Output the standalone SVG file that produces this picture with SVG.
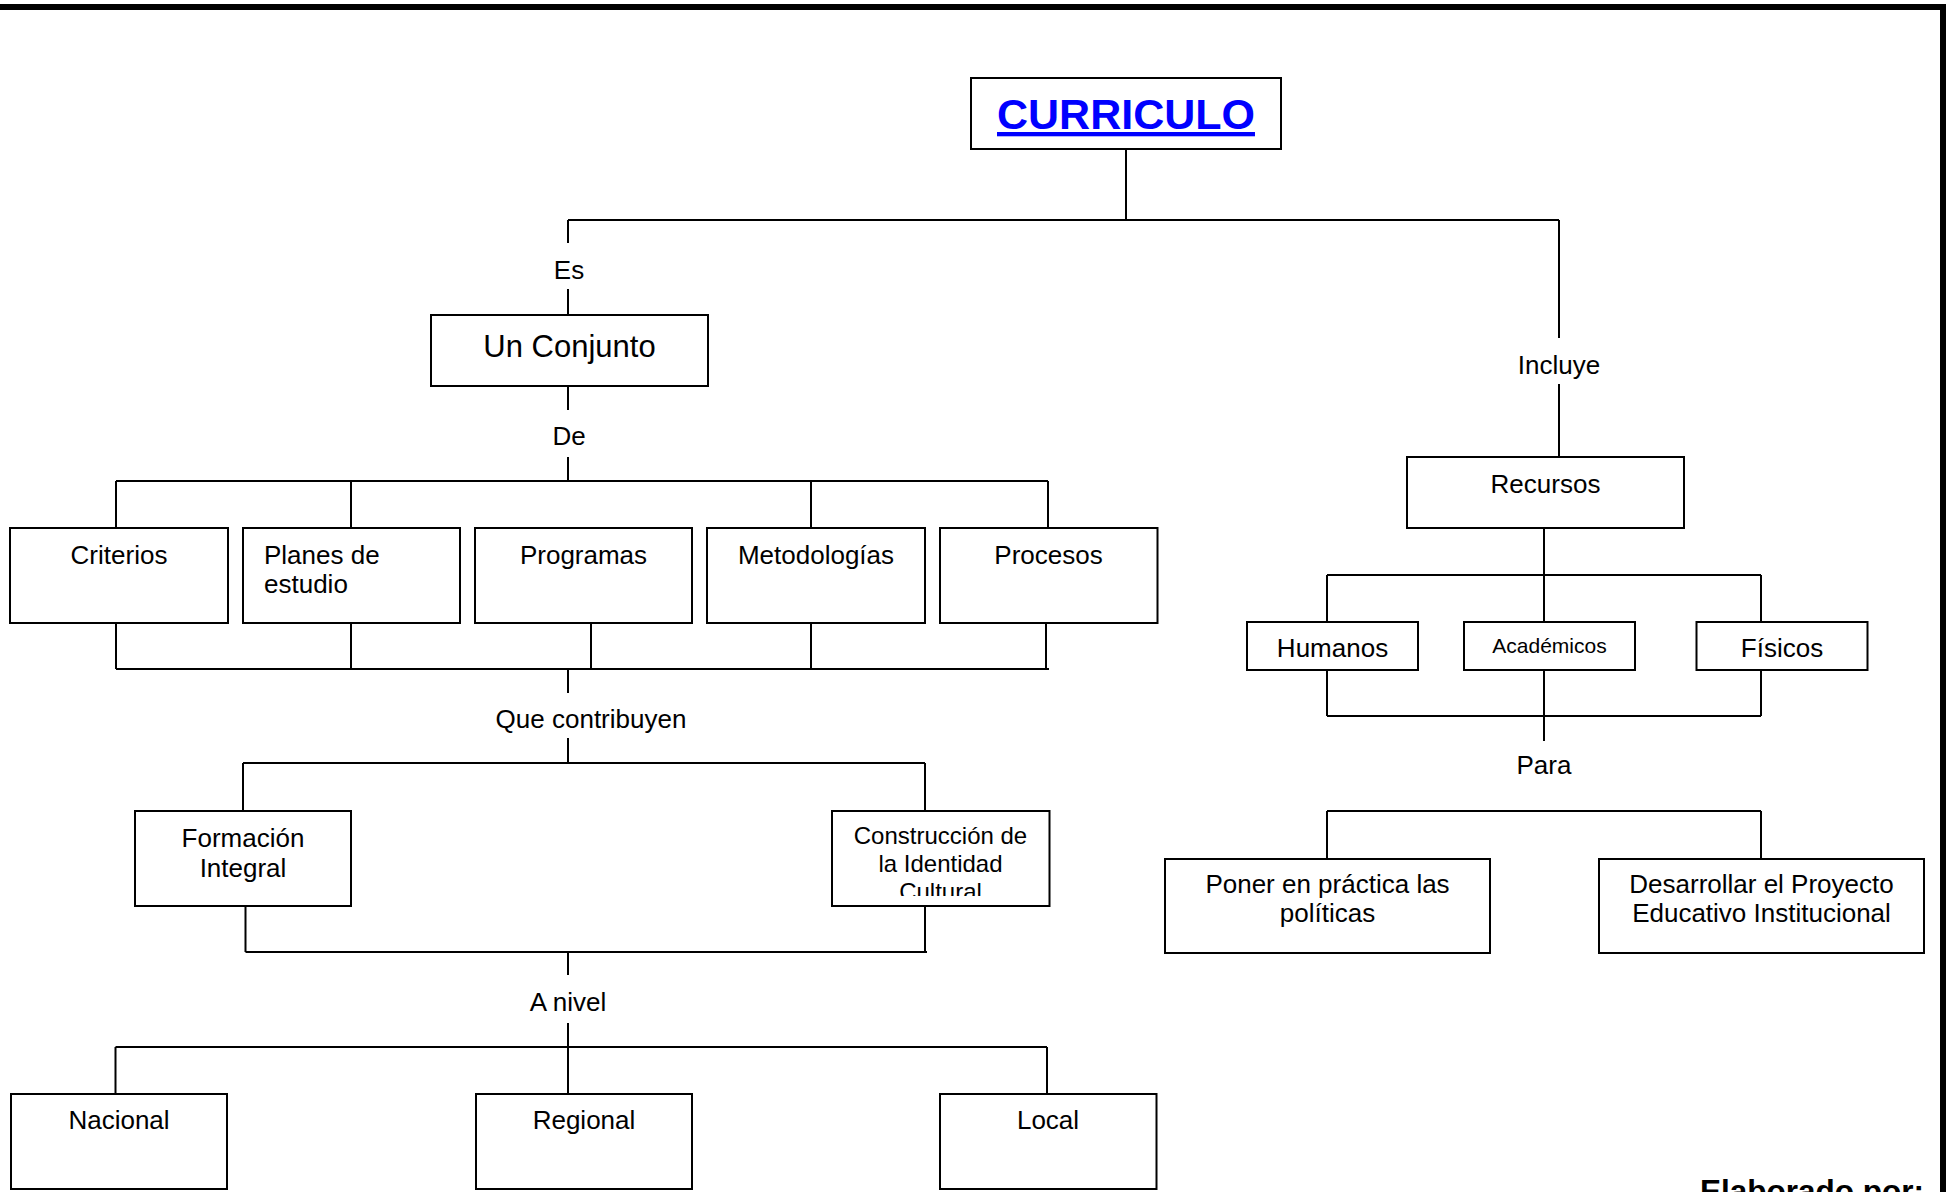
<svg xmlns="http://www.w3.org/2000/svg" width="1948" height="1192" viewBox="0 0 1948 1192">
  <style>
    .box { fill: #ffffff; stroke: #000000; stroke-width: 2; }
    .conn { fill: none; stroke: #000000; stroke-width: 2; }
    .frame { fill: none; stroke: #000000; stroke-width: 6; }
    text { font-family: "Liberation Sans", Arial, sans-serif; fill: #000000; }
    .lbl { font-size: 26px; text-anchor: middle; }
    .sm { font-size: 21px; text-anchor: middle; }
    .md { font-size: 24px; text-anchor: middle; }
    .title { font-size: 43px; font-weight: bold; fill: #0000ff; text-anchor: middle; text-decoration: underline; }
  </style>
  <defs>
    <clipPath id="clipIdentidad">
      <rect x="832" y="811" width="218" height="85"/>
    </clipPath>
  </defs>

  <rect x="0" y="0" width="1948" height="1192" fill="#ffffff"/>

  <!-- page frame (top and right edges) -->
  <g id="frame">
    <line class="frame" x1="0" y1="7" x2="1946" y2="7"/>
    <line class="frame" x1="1943" y1="4" x2="1943" y2="1192"/>
  </g>

  <!-- connectors and link labels -->
  <g id="connectors">
    <path class="conn" d="M1126 149 V220 M568 220 H1559"/>
    <path class="conn" d="M568 220 V243 M568 289 V315"/>
    <path class="conn" d="M1559 220 V338 M1559 384 V457"/>
    <path class="conn" d="M568 386 V410 M568 457 V481"/>
    <path class="conn" d="M116 481 H1048 M116 481 V528 M351 481 V528 M811 481 V528 M1048 481 V528"/>
    <path class="conn" d="M116 623 V669 M351 623 V669 M591 623 V669 M811 623 V669 M1046 623 V669 M116 669 H1049"/>
    <path class="conn" d="M568 669 V693 M568 738 V763"/>
    <path class="conn" d="M243 763 H925 M243 763 V811 M925 763 V811"/>
    <path class="conn" d="M245.5 906 V952 M925 906 V952 M245.5 952 H927"/>
    <path class="conn" d="M568 952 V975 M568 1023 V1094"/>
    <path class="conn" d="M115.5 1047 H1047 M115.5 1047 V1094 M1047 1047 V1094"/>
    <path class="conn" d="M1544 528 V622 M1327 575 H1761 M1327 575 V622 M1761 575 V622"/>
    <path class="conn" d="M1327 670 V716 M1761 670 V716 M1327 716 H1761 M1544 670 V741"/>
    <path class="conn" d="M1327 811 H1761 M1327 811 V859 M1761 811 V859"/>

    <text class="lbl" x="569" y="279">Es</text>
    <text class="lbl" x="569" y="445">De</text>
    <text class="lbl" x="1559" y="374">Incluye</text>
    <text class="lbl" x="591" y="728">Que contribuyen</text>
    <text class="lbl" x="568" y="1011">A nivel</text>
    <text class="lbl" x="1544" y="774">Para</text>
  </g>

  <g id="curriculo">
    <rect class="box" x="971" y="78" width="310" height="71"/>
    <text class="title" x="1126" y="129">CURRICULO</text>
  </g>

  <g id="un-conjunto">
    <rect class="box" x="431" y="315" width="277" height="71"/>
    <text class="lbl" x="569.5" y="357" style="font-size:31px">Un Conjunto</text>
  </g>

  <g id="criterios">
    <rect class="box" x="10" y="528" width="218" height="95"/>
    <text class="lbl" x="119" y="564">Criterios</text>
  </g>
  <g id="planes">
    <rect class="box" x="243" y="528" width="217" height="95"/>
    <text x="264" y="564" font-size="26">Planes de</text>
    <text x="264" y="593" font-size="26">estudio</text>
  </g>
  <g id="programas">
    <rect class="box" x="475" y="528" width="217" height="95"/>
    <text class="lbl" x="583.5" y="564">Programas</text>
  </g>
  <g id="metodologias">
    <rect class="box" x="707" y="528" width="218" height="95"/>
    <text class="lbl" x="816" y="564">Metodologías</text>
  </g>
  <g id="procesos">
    <rect class="box" x="940" y="528" width="217.5" height="95"/>
    <text class="lbl" x="1048.5" y="564">Procesos</text>
  </g>

  <g id="formacion">
    <rect class="box" x="135" y="811" width="216" height="95"/>
    <text class="lbl" x="243" y="847">Formación</text>
    <text class="lbl" x="243" y="877">Integral</text>
  </g>
  <g id="construccion">
    <rect class="box" x="832" y="811" width="217.5" height="95"/>
    <g clip-path="url(#clipIdentidad)">
      <text class="md" x="940.5" y="844">Construcción de</text>
      <text class="md" x="940.5" y="872">la Identidad</text>
      <text class="md" x="940.5" y="900">Cultural</text>
    </g>
  </g>

  <g id="nacional">
    <rect class="box" x="11" y="1094" width="216" height="95"/>
    <text class="lbl" x="119" y="1129">Nacional</text>
  </g>
  <g id="regional">
    <rect class="box" x="476" y="1094" width="216" height="95"/>
    <text class="lbl" x="584" y="1129">Regional</text>
  </g>
  <g id="local">
    <rect class="box" x="940" y="1094" width="216.5" height="95"/>
    <text class="lbl" x="1048" y="1129">Local</text>
  </g>

  <g id="recursos">
    <rect class="box" x="1407" y="457" width="277" height="71"/>
    <text class="lbl" x="1545.5" y="493">Recursos</text>
  </g>
  <g id="humanos">
    <rect class="box" x="1247" y="622" width="171" height="48"/>
    <text class="lbl" x="1332.5" y="657">Humanos</text>
  </g>
  <g id="academicos">
    <rect class="box" x="1464" y="622" width="171" height="48"/>
    <text class="sm" x="1549.5" y="653">Académicos</text>
  </g>
  <g id="fisicos">
    <rect class="box" x="1696.5" y="622" width="171" height="48"/>
    <text class="lbl" x="1782" y="657">Físicos</text>
  </g>

  <g id="poner">
    <rect class="box" x="1165" y="859" width="325" height="94"/>
    <text class="lbl" x="1327.5" y="893">Poner en práctica las</text>
    <text class="lbl" x="1327.5" y="922">políticas</text>
  </g>
  <g id="desarrollar">
    <rect class="box" x="1599" y="859" width="325" height="94"/>
    <text class="lbl" x="1761.5" y="893">Desarrollar el Proyecto</text>
    <text class="lbl" x="1761.5" y="922">Educativo Institucional</text>
  </g>

  <g id="credits">
    <text x="1700" y="1202" font-size="31.5" font-weight="bold">Elaborado por:</text>
  </g>
</svg>
